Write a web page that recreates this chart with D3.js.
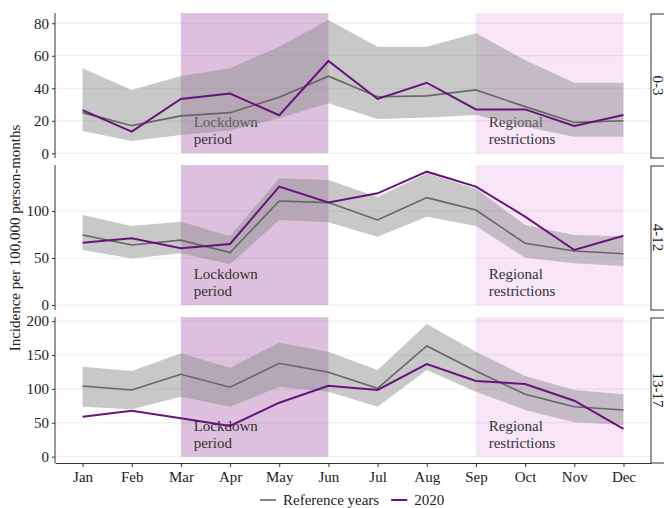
<!DOCTYPE html>
<html>
<head>
<meta charset="utf-8">
<script src="https://cdn.jsdelivr.net/npm/d3@7"></script>
<style>
  html, body { margin: 0; padding: 0; background: #fff; }
  svg { display: block; font-family: "Liberation Serif", "DejaVu Serif", serif; }
</style>
</head>
<body>
<svg id="chart" width="664" height="508"></svg>
<script>
// Monthly incidence per 100,000 person-months by age group
const months = ["Jan", "Feb", "Mar", "Apr", "May", "Jun", "Jul", "Aug", "Sep", "Oct", "Nov", "Dec"];
const ageGroups = ["0-3", "4-12", "13-17"];

// Reference years: mean and interval bounds
const ref0_3   = [25, 17, 23, 25, 34.5, 47.4, 34.8, 35.3, 39, 28.7, 19, 20];
const lo0_3    = [13.7, 7.6, 11.3, 14, 21.5, 30.8, 21.1, 22, 23.6, 16.4, 10.2, 10.2];
const hi0_3    = [52.3, 39, 47.6, 52.3, 65.6, 82, 65.6, 65.6, 73.8, 57.4, 43.4, 43.4];
const y2020_0_3 = [26.6, 13.3, 33.4, 36.7, 23.4, 56.8, 33.4, 43.4, 27, 27, 16.8, 23.6];

const ref4_12   = [74.5, 63.8, 69, 55.7, 110.6, 108.9, 90.4, 114.2, 101, 65.6, 57.4, 54.6];
const lo4_12    = [58.5, 49.6, 55, 43.3, 90.4, 88, 72.7, 94, 84, 50.3, 44.3, 41.5];
const hi4_12    = [95.7, 84, 88.6, 73.4, 134.8, 133, 115, 140, 124, 85, 74.5, 73];
const y2020_4_12 = [66.3, 71, 60.3, 64.9, 125.9, 109, 118.8, 141.8, 125.9, 94, 58.5, 73.7];

const ref13_17   = [104.3, 98.4, 121.5, 102.4, 137.8, 124.5, 100.9, 163.3, 126.4, 92, 73.7, 68.9];
const lo13_17    = [73.7, 69.9, 88.5, 73.7, 103.2, 95.9, 73.7, 127.9, 95.9, 68.9, 50.7, 46.8];
const hi13_17    = [132.7, 126.4, 152.5, 131.3, 168.1, 154.9, 127.9, 195.7, 154.9, 119, 98.4, 92];
const y2020_13_17 = [59, 67.8, 56.6, 45.3, 79.6, 104.7, 98.4, 136.7, 111.7, 107.2, 82.6, 40.9];

// Y tick values per panel
const ticks0_3 = [0, 20, 40, 60, 80];
const ticks4_12 = [0, 50, 100];
const ticks13_17 = [0, 50, 100, 150, 200];

// Shaded periods (month index, 1-based)
const periods = [
  { start: 3, end: 6, label: ["Lockdown", "period"], fill: "#c89ac8", opacity: 0.62 },
  { start: 9, end: 12, label: ["Regional", "restrictions"], fill: "#f3d2f3", opacity: 0.55 }
];

const legendItems = [
  { label: "Reference years", color: "#666666" },
  { label: "2020", color: "#68137c" }
];

const panels = [
  { name: ageGroups[0], ref: ref0_3, lo: lo0_3, hi: hi0_3, cur: y2020_0_3, ticks: ticks0_3, domain: [-2.9, 86.3], top: 13, bottom: 158 },
  { name: ageGroups[1], ref: ref4_12, lo: lo4_12, hi: hi4_12, cur: y2020_4_12, ticks: ticks4_12, domain: [-5.3, 148.9], top: 165, bottom: 310 },
  { name: ageGroups[2], ref: ref13_17, lo: lo13_17, hi: hi13_17, cur: y2020_13_17, ticks: ticks13_17, domain: [-9.3, 206], top: 317, bottom: 463 }
];

const svg = d3.select("#chart");
const left = 55, right = 651;
const x = d3.scaleLinear().domain([1 - 0.56, 12 + 0.56]).range([left, right]);
const textColor = "#222";
const serif = "Liberation Serif, serif";

panels.forEach((p, pi) => {
  const y = d3.scaleLinear().domain(p.domain).range([p.bottom, p.top]);
  const g = svg.append("g");

  // shaded periods, from zero up to the panel top
  periods.forEach(per => {
    g.append("rect")
      .attr("x", x(per.start))
      .attr("width", x(per.end) - x(per.start))
      .attr("y", p.top)
      .attr("height", y(0) - p.top)
      .attr("fill", per.fill)
      .attr("fill-opacity", per.opacity);
  });

  // horizontal grid
  g.selectAll("line.grid").data(p.ticks).join("line")
    .attr("class", "grid")
    .attr("x1", left).attr("x2", right)
    .attr("y1", d => y(d)).attr("y2", d => y(d))
    .attr("stroke", "#000").attr("stroke-opacity", 0.08).attr("stroke-width", 1);

  // period labels
  periods.forEach(per => {
    const t = g.append("text")
      .attr("x", x(per.start + 0.26))
      .attr("font-size", 15)
      .attr("font-family", serif)
      .attr("fill", "#333");
    t.append("tspan").attr("x", x(per.start + 0.26)).attr("y", y(0) - 26).text(per.label[0]);
    t.append("tspan").attr("x", x(per.start + 0.26)).attr("y", y(0) - 9).text(per.label[1]);
  });

  const idx = d3.range(months.length);

  // reference interval ribbon
  g.append("path")
    .datum(idx)
    .attr("d", d3.area().x(i => x(i + 1)).y0(i => y(p.lo[i])).y1(i => y(p.hi[i])))
    .attr("fill", "#8c8c8c").attr("fill-opacity", 0.48);

  // reference mean line
  g.append("path")
    .datum(idx)
    .attr("d", d3.line().x(i => x(i + 1)).y(i => y(p.ref[i])))
    .attr("fill", "none").attr("stroke", legendItems[0].color).attr("stroke-width", 1.6);

  // 2020 line
  g.append("path")
    .datum(idx)
    .attr("d", d3.line().x(i => x(i + 1)).y(i => y(p.cur[i])))
    .attr("fill", "none").attr("stroke", legendItems[1].color).attr("stroke-width", 2);

  // y axis
  const ya = g.append("g")
    .attr("transform", `translate(${left},0)`)
    .call(d3.axisLeft(y).tickValues(p.ticks).tickSize(3).tickPadding(3).tickSizeOuter(0));
  ya.select(".domain").attr("stroke", "#333").attr("d", `M0,${p.top}V${p.bottom}`);
  ya.selectAll(".tick line").attr("stroke", "#333");
  ya.selectAll(".tick text").attr("font-size", 15).attr("fill", textColor).attr("font-family", serif);

  // facet strip
  g.append("rect")
    .attr("x", right).attr("y", p.top + 1)
    .attr("width", 30).attr("height", p.bottom - p.top - 1)
    .attr("fill", "#fff").attr("stroke", "#333").attr("stroke-width", 1);
  g.append("text")
    .attr("transform", `translate(${right + 1.5},${(p.top + p.bottom) / 2}) rotate(90)`)
    .attr("text-anchor", "middle")
    .attr("font-size", 15).attr("font-family", serif).attr("fill", textColor)
    .text(p.name);

  // x axis on the bottom panel
  if (pi === panels.length - 1) {
    const xa = g.append("g")
      .attr("transform", `translate(0,${p.bottom})`)
      .call(d3.axisBottom(x).tickValues(d3.range(1, 13)).tickFormat(d => months[d - 1]).tickSize(4).tickPadding(4).tickSizeOuter(0));
    xa.select(".domain").attr("stroke", "#333");
    xa.selectAll(".tick line").attr("stroke", "#333");
    xa.selectAll(".tick text").attr("font-size", 15).attr("fill", textColor).attr("font-family", serif);
  }
});

// y axis title
svg.append("text")
  .attr("transform", `translate(20,${(panels[0].top + panels[2].bottom) / 2}) rotate(-90)`)
  .attr("text-anchor", "middle")
  .attr("font-size", 15).attr("font-family", serif).attr("fill", textColor)
  .text("Incidence per 100,000 person-months");

// legend
const legend = svg.append("g").attr("transform", "translate(260,500)");
let lx = 0;
legendItems.forEach(item => {
  legend.append("line").attr("x1", lx).attr("x2", lx + 16).attr("y1", 0).attr("y2", 0)
    .attr("stroke", item.color).attr("stroke-width", item === legendItems[0] ? 1.6 : 2);
  const t = legend.append("text").attr("x", lx + 23).attr("y", 5)
    .attr("font-size", 15).attr("font-family", serif).attr("fill", textColor).text(item.label);
  lx += 23 + t.node().getComputedTextLength() + 12;
});
</script>
</body>
</html>
